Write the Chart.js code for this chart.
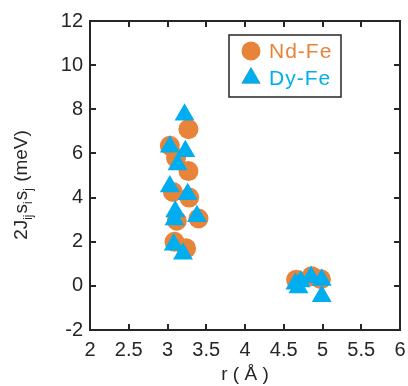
<!DOCTYPE html>
<html>
<head>
<meta charset="utf-8">
<script src="https://cdn.jsdelivr.net/npm/chart.js@4"></script>
<style>
  body { margin: 0; background: #fff; }
  #wrap { width: 408px; height: 386px; }
</style>
</head>
<body>
<div id="wrap"><canvas id="chart" width="408" height="386"></canvas></div>
<script>
// values
const ndFeR = [3.27, 3.03, 3.11, 3.27, 3.07, 3.28, 3.40, 3.12, 3.09, 3.24, 4.66, 4.86, 4.98];
const ndFeJ = [7.10, 6.35, 5.80, 5.20, 4.25, 4.00, 3.05, 2.95, 2.00, 1.70, 0.28, 0.44, 0.30];
const dyFeR = [3.22, 3.03, 3.23, 3.13, 3.03, 3.26, 3.10, 3.09, 3.38, 3.08, 3.20, 4.65, 4.72, 4.69, 4.85, 4.99, 4.99];
const dyFeJ = [7.75, 6.30, 6.10, 5.50, 4.50, 4.15, 3.37, 3.01, 3.15, 1.86, 1.45, 0.10, 0.20, -0.08, 0.40, 0.26, -0.47];

const xTicks = [2, 2.5, 3, 3.5, 4, 4.5, 5, 5.5, 6];
const yTicks = [-2, 0, 2, 4, 6, 8, 10, 12];

const ORANGE = "#E8833A";
const BLUE = "#00ADEF";
const INK = "#262626";
const FONT = "'Liberation Sans', Arial, sans-serif";

const toPoints = (xs, ys) => xs.map((v, i) => ({ x: v, y: ys[i] }));

// box, inward ticks, axis titles and the legend, drawn like the matlab figure
const frame = {
  id: "frame",
  afterDraw(chart) {
    const { ctx, chartArea: a, scales } = chart;
    const len = 6;
    ctx.save();
    ctx.strokeStyle = INK;
    ctx.lineWidth = 2;
    ctx.strokeRect(a.left, a.top, a.right - a.left, a.bottom - a.top);

    ctx.beginPath();
    xTicks.forEach((t) => {
      const px = Math.round(scales.x.getPixelForValue(t));
      ctx.moveTo(px, a.bottom);
      ctx.lineTo(px, a.bottom - len);
      ctx.moveTo(px, a.top);
      ctx.lineTo(px, a.top + len);
    });
    yTicks.forEach((t) => {
      const py = Math.round(scales.y.getPixelForValue(t));
      ctx.moveTo(a.left, py);
      ctx.lineTo(a.left + len, py);
      ctx.moveTo(a.right, py);
      ctx.lineTo(a.right - len, py);
    });
    ctx.stroke();

    // x title
    ctx.fillStyle = INK;
    ctx.textAlign = "center";
    ctx.textBaseline = "middle";
    ctx.font = "19px " + FONT;
    ctx.fillText("r ( Å )", (a.left + a.right) / 2, 375);

    // y title with subscripts
    ctx.save();
    ctx.translate(21, 185);
    ctx.rotate(-Math.PI / 2);
    const parts = [
      ["2J", false], ["ij", true], ["s", false], ["i", true],
      ["s", false], ["j", true], [" (meV)", false]
    ];
    const big = "19px " + FONT;
    const small = "12px " + FONT;
    let total = 0;
    parts.forEach(([t, sub]) => {
      ctx.font = sub ? small : big;
      total += ctx.measureText(t).width + (sub ? 1 : 0);
    });
    let cx = -total / 2;
    ctx.textAlign = "left";
    ctx.textBaseline = "alphabetic";
    parts.forEach(([t, sub]) => {
      ctx.font = sub ? small : big;
      ctx.fillText(t, cx, sub ? 11 : 6);
      cx += ctx.measureText(t).width + (sub ? 1 : 0);
    });
    ctx.restore();

    // legend
    ctx.lineWidth = 1.5;
    ctx.strokeStyle = INK;
    ctx.fillStyle = "#fff";
    ctx.fillRect(229, 35, 112, 62);
    ctx.strokeRect(229, 35, 112, 62);
    ctx.font = "21px " + FONT;
    ctx.letterSpacing = "1px";
    ctx.textAlign = "left";
    ctx.textBaseline = "middle";
    chart.data.datasets.forEach((ds, i) => {
      const ly = i === 0 ? 51 : 78;
      Chart.helpers.drawPoint(ctx, {
        pointStyle: ds.pointStyle,
        radius: ds.pointStyle === "circle" ? 9.5 : 11,
        borderWidth: 0
      }, 251, ly);
      ctx.fillStyle = ds.backgroundColor;
      ctx.fill();
      ctx.fillText(ds.label, 269, ly + 1);
    });
    ctx.restore();
  }
};

new Chart(document.getElementById("chart"), {
  type: "scatter",
  data: {
    datasets: [
      {
        label: "Nd-Fe",
        data: toPoints(ndFeR, ndFeJ),
        pointStyle: "circle",
        pointRadius: 10,
        backgroundColor: ORANGE,
        borderWidth: 0,
        order: 1
      },
      {
        label: "Dy-Fe",
        data: toPoints(dyFeR, dyFeJ),
        pointStyle: "triangle",
        pointRadius: 11.5,
        backgroundColor: BLUE,
        borderWidth: 0,
        order: 0
      }
    ]
  },
  options: {
    responsive: false,
    animation: false,
    layout: { autoPadding: false, padding: { top: 21, right: 8, left: 0, bottom: 0 } },
    plugins: { legend: { display: false }, tooltip: { enabled: false } },
    scales: {
      x: {
        min: 2,
        max: 6,
        afterBuildTicks: (s) => { s.ticks = xTicks.map((v) => ({ value: v })); },
        afterFit: (s) => { s.height = 56; s.paddingLeft = 0; s.paddingRight = 0; },
        grid: { display: false, drawTicks: false },
        border: { display: false },
        ticks: {
          color: INK,
          font: { size: 20, family: FONT },
          padding: 8,
          maxRotation: 0,
          callback: (v) => String(v)
        }
      },
      y: {
        min: -2,
        max: 12,
        afterBuildTicks: (s) => { s.ticks = yTicks.map((v) => ({ value: v })); },
        afterFit: (s) => { s.width = 90; s.paddingTop = 0; s.paddingBottom = 0; },
        grid: { display: false, drawTicks: false },
        border: { display: false },
        ticks: { color: INK, font: { size: 20, family: FONT }, padding: 7 }
      }
    }
  },
  plugins: [frame]
});
</script>
</body>
</html>
